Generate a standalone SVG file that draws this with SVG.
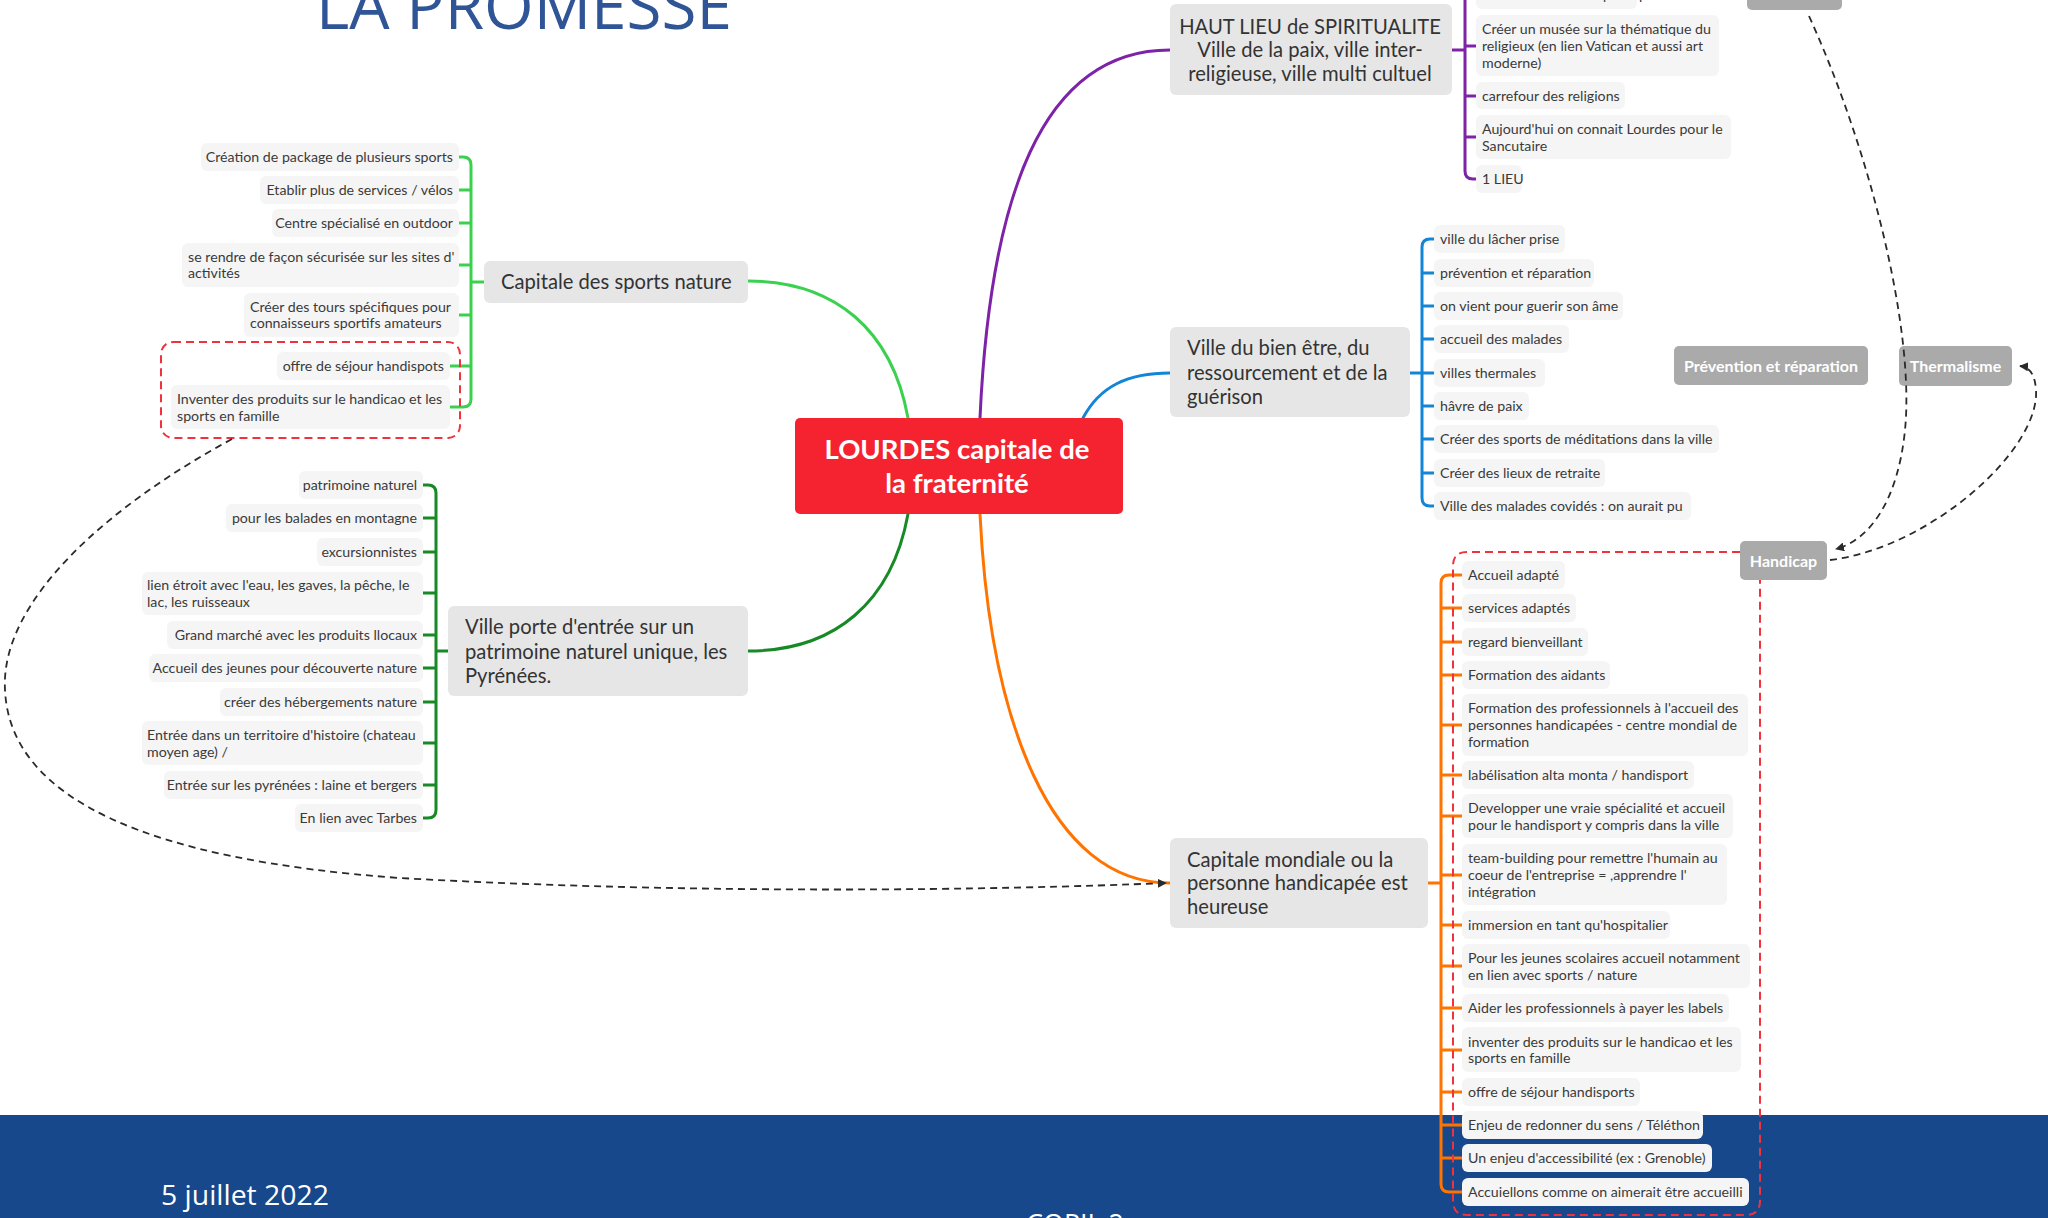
<svg xmlns="http://www.w3.org/2000/svg" width="2048" height="1218" viewBox="0 0 2048 1218">
<defs>
<style>
.it rect{fill:#f5f5f5}
.it text{font-family:Lato,"Open Sans",sans-serif;font-size:14.2px;fill:#3a3a3a}
.nd rect{fill:#e6e6e6}
.nd text{font-family:Lato,"Open Sans",sans-serif;font-size:20.2px;fill:#333}
.lb rect{fill:#aaaaaa}
.lb text{font-family:Lato,"Open Sans",sans-serif;font-size:16px;font-weight:bold;fill:#fff;text-anchor:middle}
.br{fill:none;stroke-width:3;stroke-linecap:round;stroke-linejoin:round}
.rel{fill:none;stroke:#2a2a2a;stroke-width:1.8;stroke-dasharray:7 5}
.bd{fill:none;stroke:#f0323e;stroke-width:2;stroke-dasharray:8 5}
</style>
<marker id="ar" viewBox="0 0 10 10" refX="9" refY="5" markerWidth="9" markerHeight="9" markerUnits="userSpaceOnUse" orient="auto">
<path d="M0,0 L10,5 L0,10 z" fill="#2a2a2a"/>
</marker>
</defs>
<rect width="2048" height="1218" fill="#fff"/>
<rect x="0" y="1115" width="2048" height="103" fill="#16488b"/>
<text x="316" y="29" font-family="'Open Sans',sans-serif" font-size="64" fill="#2f5597" textLength="416" lengthAdjust="spacingAndGlyphs">LA PROMESSE</text>
<text x="161" y="1205" font-family="'Open Sans',sans-serif" font-size="28" fill="#fff" textLength="168" lengthAdjust="spacingAndGlyphs">5 juillet 2022</text>
<text x="1026" y="1234" font-family="'Open Sans',sans-serif" font-size="28" fill="#fff" textLength="98" lengthAdjust="spacingAndGlyphs">COPIL 2</text>

<g id="connectors">
<path class="br" stroke="#3bd14f" d="M908,418 C 892,330 835,281 748,281"/>
<path class="br" stroke="#178a26" d="M908,514 C 892,602 835,651 748,651"/>
<path class="br" stroke="#7e22a8" d="M980,418 C 990,200 1040,50 1170,50"/>
<path class="br" stroke="#1385d6" d="M1083,418 C 1100,386 1128,373 1170,373"/>
<path class="br" stroke="#ff7400" d="M980,514 C 990,720 1050,883 1170,883"/>
<path class="br" stroke="#3bd14f" d="M459,157 H463 Q471,157 471,165 V399 Q471,407 463,407 H450 M471,190 H459 M471,223 H459 M471,265 H459 M471,315 H459 M471,366 H450 M484,282 H471"/>
<path class="br" stroke="#178a26" d="M423,485 H428 Q436,485 436,493 V810 Q436,818 428,818 H423 M436,518 H423 M436,552 H423 M436,593 H423 M436,635 H423 M436,668 H423 M436,702 H423 M436,743 H423 M436,785 H423 M448,651 H436"/>
<path class="br" stroke="#7e22a8" d="M1465,-30 V171 Q1465,179 1473,179 H1476 M1465,-5 H1476 M1465,46 H1476 M1465,96 H1476 M1465,137 H1476 M1452,50 H1465"/>
<path class="br" stroke="#1385d6" d="M1434,239 H1430 Q1422,239 1422,247 V498 Q1422,506 1430,506 H1434 M1422,273 H1434 M1422,306 H1434 M1422,339 H1434 M1422,373 H1434 M1422,406 H1434 M1422,439 H1434 M1422,473 H1434 M1410,373 H1422"/>
<path class="br" stroke="#ff7400" d="M1462,575 H1449 Q1441,575 1441,583 V1184 Q1441,1192 1449,1192 H1462 M1441,608 H1462 M1441,642 H1462 M1441,675 H1462 M1441,725 H1462 M1441,775 H1462 M1441,816 H1462 M1441,875 H1462 M1441,925 H1462 M1441,966 H1462 M1441,1008 H1462 M1441,1050 H1462 M1441,1092 H1462 M1441,1125 H1462 M1441,1158 H1462 M1428,883 H1441"/>
</g>

<rect class="bd" x="161" y="342" width="299" height="96" rx="12"/>
<path class="bd" d="M1740,552 H1467 Q1453,552 1453,566 V1201 Q1453,1215 1467,1215 H1746 Q1760,1215 1760,1201 V580"/>

<g id="center">
<rect x="795" y="418" width="328" height="96" rx="5" fill="#f52230"/>
<text font-family="Lato,'Open Sans',sans-serif" font-size="27.5" font-weight="bold" fill="#fff" text-anchor="middle"><tspan x="957" y="459">LOURDES capitale de</tspan><tspan x="957" y="493">la fraternité</tspan></text>
</g>

<g id="n-sports" class="nd"><rect x="484" y="261" width="264" height="42" rx="6"/><text x="501" y="289">Capitale des sports nature</text></g>
<g id="n-pyrenees" class="nd"><rect x="448" y="606" width="300" height="90" rx="6"/><text><tspan x="465" y="634">Ville porte d'entrée sur un</tspan><tspan x="465" y="659">patrimoine naturel unique, les</tspan><tspan x="465" y="683">Pyrénées.</tspan></text></g>
<g id="n-spirit" class="nd"><rect x="1170" y="4" width="282" height="91" rx="6"/><text text-anchor="middle"><tspan x="1310" y="34">HAUT LIEU de SPIRITUALITE</tspan><tspan x="1310" y="57">Ville de la paix, ville inter-</tspan><tspan x="1310" y="81">religieuse, ville multi cultuel</tspan></text></g>
<g id="n-bienetre" class="nd"><rect x="1170" y="327" width="240" height="90" rx="6"/><text><tspan x="1187" y="355">Ville du bien être, du</tspan><tspan x="1187" y="380">ressourcement et de la</tspan><tspan x="1187" y="404">guérison</tspan></text></g>
<g id="n-handicap" class="nd"><rect x="1170" y="838" width="258" height="90" rx="6"/><text><tspan x="1187" y="867">Capitale mondiale ou la</tspan><tspan x="1187" y="890">personne handicapée est</tspan><tspan x="1187" y="914">heureuse</tspan></text></g>

<g id="s1" class="it"><rect x="201" y="143" width="258" height="28" rx="6"/><text x="453" y="162" text-anchor="end">Création de package de plusieurs sports</text></g>
<g id="s2" class="it"><rect x="260" y="176" width="199" height="28" rx="6"/><text x="453" y="195" text-anchor="end">Etablir plus de services / vélos</text></g>
<g id="s3" class="it"><rect x="272" y="209" width="187" height="28" rx="6"/><text x="453" y="228" text-anchor="end">Centre spécialisé en outdoor</text></g>
<g id="s4" class="it"><rect x="182" y="243" width="277" height="44" rx="6"/><text><tspan x="188" y="262">se rendre de façon sécurisée sur les sites d'</tspan><tspan x="188" y="278">activités</tspan></text></g>
<g id="s5" class="it"><rect x="244" y="293" width="215" height="44" rx="6"/><text><tspan x="250" y="312">Créer des tours spécifiques pour</tspan><tspan x="250" y="328">connaisseurs sportifs amateurs</tspan></text></g>
<g id="s6" class="it"><rect x="277" y="352" width="173" height="28" rx="6"/><text x="444" y="371" text-anchor="end">offre de séjour handispots</text></g>
<g id="s7" class="it"><rect x="171" y="385" width="279" height="44" rx="6"/><text><tspan x="177" y="404">Inventer des produits sur le handicao et les</tspan><tspan x="177" y="421">sports en famille</tspan></text></g>

<g id="p1" class="it"><rect x="299" y="471" width="124" height="28" rx="6"/><text x="417" y="490" text-anchor="end">patrimoine naturel</text></g>
<g id="p2" class="it"><rect x="226" y="504" width="197" height="28" rx="6"/><text x="417" y="523" text-anchor="end">pour les balades en montagne</text></g>
<g id="p3" class="it"><rect x="317" y="538" width="106" height="28" rx="6"/><text x="417" y="557" text-anchor="end">excursionnistes</text></g>
<g id="p4" class="it"><rect x="142" y="572" width="281" height="43" rx="6"/><text><tspan x="147" y="590">lien étroit avec l'eau, les gaves, la pêche, le</tspan><tspan x="147" y="607">lac, les ruisseaux</tspan></text></g>
<g id="p5" class="it"><rect x="167" y="621" width="256" height="28" rx="6"/><text x="417" y="640" text-anchor="end">Grand marché avec les produits llocaux</text></g>
<g id="p6" class="it"><rect x="149" y="654" width="274" height="28" rx="6"/><text x="417" y="673" text-anchor="end">Accueil des jeunes pour découverte nature</text></g>
<g id="p7" class="it"><rect x="220" y="688" width="203" height="28" rx="6"/><text x="417" y="707" text-anchor="end">créer des hébergements nature</text></g>
<g id="p8" class="it"><rect x="142" y="721" width="281" height="44" rx="6"/><text><tspan x="147" y="740">Entrée dans un territoire d'histoire (chateau</tspan><tspan x="147" y="757">moyen age) /</tspan></text></g>
<g id="p9" class="it"><rect x="164" y="771" width="259" height="28" rx="6"/><text x="417" y="790" text-anchor="end">Entrée sur les pyrénées : laine et bergers</text></g>
<g id="p10" class="it"><rect x="295" y="804" width="128" height="28" rx="6"/><text x="417" y="823" text-anchor="end">En lien avec Tarbes</text></g>

<g id="r0" class="it"><rect x="1476" y="-19" width="161" height="28" rx="6"/><text x="1482" y="0">immersion en tant qu'hospitalier</text></g>
<g id="r1" class="it"><rect x="1476" y="15" width="243" height="61" rx="6"/><text><tspan x="1482" y="34">Créer un musée sur la thématique du</tspan><tspan x="1482" y="51">religieux (en lien Vatican et aussi art</tspan><tspan x="1482" y="68">moderne)</tspan></text></g>
<g id="r2" class="it"><rect x="1476" y="82" width="149" height="27" rx="6"/><text x="1482" y="101">carrefour des religions</text></g>
<g id="r3" class="it"><rect x="1476" y="115" width="255" height="44" rx="6"/><text><tspan x="1482" y="134">Aujourd'hui on connait Lourdes pour le</tspan><tspan x="1482" y="151">Sancutaire</tspan></text></g>
<g id="r4" class="it"><rect x="1476" y="165" width="46" height="28" rx="6"/><text x="1482" y="184">1 LIEU</text></g>

<g id="b1" class="it"><rect x="1434" y="225" width="131" height="28" rx="6"/><text x="1440" y="244">ville du lâcher prise</text></g>
<g id="b2" class="it"><rect x="1434" y="259" width="160" height="28" rx="6"/><text x="1440" y="278">prévention et réparation</text></g>
<g id="b3" class="it"><rect x="1434" y="292" width="189" height="28" rx="6"/><text x="1440" y="311">on vient pour guerir son âme</text></g>
<g id="b4" class="it"><rect x="1434" y="325" width="135" height="28" rx="6"/><text x="1440" y="344">accueil des malades</text></g>
<g id="b5" class="it"><rect x="1434" y="359" width="111" height="28" rx="6"/><text x="1440" y="378">villes thermales</text></g>
<g id="b6" class="it"><rect x="1434" y="392" width="95" height="28" rx="6"/><text x="1440" y="411">hâvre de paix</text></g>
<g id="b7" class="it"><rect x="1434" y="425" width="285" height="28" rx="6"/><text x="1440" y="444">Créer des sports de méditations dans la ville</text></g>
<g id="b8" class="it"><rect x="1434" y="459" width="171" height="28" rx="6"/><text x="1440" y="478">Créer des lieux de retraite</text></g>
<g id="b9" class="it"><rect x="1434" y="492" width="257" height="28" rx="6"/><text x="1440" y="511">Ville des malades covidés : on aurait pu</text></g>

<g id="h1" class="it"><rect x="1462" y="561" width="103" height="28" rx="6"/><text x="1468" y="580">Accueil adapté</text></g>
<g id="h2" class="it"><rect x="1462" y="594" width="114" height="28" rx="6"/><text x="1468" y="613">services adaptés</text></g>
<g id="h3" class="it"><rect x="1462" y="628" width="126" height="28" rx="6"/><text x="1468" y="647">regard bienveillant</text></g>
<g id="h4" class="it"><rect x="1462" y="661" width="148" height="28" rx="6"/><text x="1468" y="680">Formation des aidants</text></g>
<g id="h5" class="it"><rect x="1462" y="694" width="286" height="62" rx="6"/><text><tspan x="1468" y="713">Formation des professionnels à l'accueil des</tspan><tspan x="1468" y="730">personnes handicapées - centre mondial de</tspan><tspan x="1468" y="747">formation</tspan></text></g>
<g id="h6" class="it"><rect x="1462" y="761" width="232" height="28" rx="6"/><text x="1468" y="780">labélisation alta monta / handisport</text></g>
<g id="h7" class="it"><rect x="1462" y="794" width="271" height="44" rx="6"/><text><tspan x="1468" y="813">Developper une vraie spécialité et accueil</tspan><tspan x="1468" y="830">pour le handisport y compris dans la ville</tspan></text></g>
<g id="h8" class="it"><rect x="1462" y="844" width="265" height="61" rx="6"/><text><tspan x="1468" y="863">team-building pour remettre l'humain au</tspan><tspan x="1468" y="880">coeur de l'entreprise = ,apprendre l'</tspan><tspan x="1468" y="897">intégration</tspan></text></g>
<g id="h9" class="it"><rect x="1462" y="911" width="208" height="28" rx="6"/><text x="1468" y="930">immersion en tant qu'hospitalier</text></g>
<g id="h10" class="it"><rect x="1462" y="944" width="288" height="44" rx="6"/><text><tspan x="1468" y="963">Pour les jeunes scolaires accueil notamment</tspan><tspan x="1468" y="980">en lien avec sports / nature</tspan></text></g>
<g id="h11" class="it"><rect x="1462" y="994" width="267" height="28" rx="6"/><text x="1468" y="1013">Aider les professionnels à payer les labels</text></g>
<g id="h12" class="it"><rect x="1462" y="1027" width="279" height="45" rx="6"/><text><tspan x="1468" y="1047">inventer des produits sur le handicao et les</tspan><tspan x="1468" y="1063">sports en famille</tspan></text></g>
<g id="h13" class="it"><rect x="1462" y="1078" width="178" height="28" rx="6"/><text x="1468" y="1097">offre de séjour handisports</text></g>
<g id="h14" class="it"><rect x="1462" y="1111" width="241" height="28" rx="6"/><text x="1468" y="1130">Enjeu de redonner du sens / Téléthon</text></g>
<g id="h15" class="it"><rect x="1462" y="1144" width="250" height="28" rx="6"/><text x="1468" y="1163">Un enjeu d'accessibilité (ex : Grenoble)</text></g>
<g id="h16" class="it"><rect x="1462" y="1178" width="287" height="28" rx="6"/><text x="1468" y="1197">Accuiellons comme on aimerait être accueilli</text></g>

<g id="l-top" class="lb"><rect x="1747" y="-30" width="95" height="40" rx="5"/></g>
<g id="l-prev" class="lb"><rect x="1674" y="346" width="194" height="39" rx="5"/><text x="1771" y="371.5">Prévention et réparation</text></g>
<g id="l-therm" class="lb"><rect x="1899" y="346" width="113" height="40" rx="5"/><text x="1955.5" y="371.5">Thermalisme</text></g>
<g id="l-handi" class="lb"><rect x="1740" y="541" width="87" height="39" rx="5"/><text x="1783.5" y="566.5">Handicap</text></g>

<g id="relations">
<path class="rel" marker-end="url(#ar)" d="M1809,16 C 1870,150 1915,330 1905,430 C 1898,500 1870,540 1836,549"/>
<path class="rel" marker-end="url(#ar)" d="M1830,560 C 1930,548 2040,450 2036,390 C 2035,375 2030,367 2020,366"/>
<path class="rel" marker-end="url(#ar)" d="M232,439 C 110,505 0,600 5,690 C 10,800 150,860 400,878 C 700,895 1000,890 1166,883"/>
</g>
</svg>
